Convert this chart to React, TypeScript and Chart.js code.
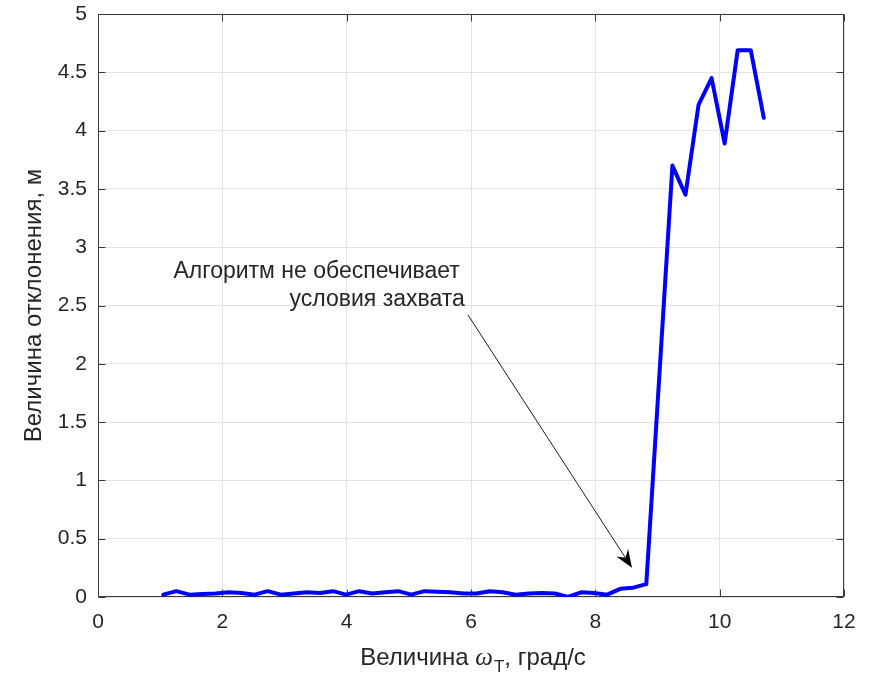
import React, { useEffect, useRef } from "react";
import { Chart, registerables } from "chart.js";

Chart.register(...registerables);

// ---- data ----
const omegaValues = [
  1.05, 1.26, 1.47, 1.68, 1.89, 2.10, 2.31, 2.52, 2.73, 2.94,
  3.15, 3.36, 3.57, 3.78, 3.99, 4.20, 4.41, 4.62, 4.83, 5.04,
  5.25, 5.46, 5.67, 5.88, 6.09, 6.30, 6.51, 6.72, 6.93, 7.14,
  7.35, 7.56, 7.77, 7.98, 8.19, 8.40, 8.61, 8.82, 9.03, 9.24,
  9.45, 9.66, 9.87, 10.08, 10.29, 10.50, 10.71,
];
const deviationValues = [
  0.02, 0.05, 0.02, 0.025, 0.03, 0.04, 0.035, 0.02, 0.05, 0.02,
  0.03, 0.04, 0.035, 0.05, 0.02, 0.05, 0.03, 0.04, 0.05, 0.02,
  0.05, 0.045, 0.04, 0.03, 0.03, 0.05, 0.04, 0.02, 0.03, 0.035,
  0.03, 0.0, 0.04, 0.035, 0.02, 0.07, 0.08, 0.11, 1.9, 3.7,
  3.45, 4.22, 4.45, 3.89, 4.69, 4.69, 4.11,
];
const xTickValues = [0, 2, 4, 6, 8, 10, 12];
const xTickLabels = ["0", "2", "4", "6", "8", "10", "12"];
const yTickValues = [0, 0.5, 1, 1.5, 2, 2.5, 3, 3.5, 4, 4.5, 5];
const yTickLabels = ["0", "0.5", "1", "1.5", "2", "2.5", "3", "3.5", "4", "4.5", "5"];

const yAxisTitle = "Величина отклонения, м";
const xTitleMain = "Величина ";
const xTitleSymbol = "ω";
const xTitleSub = "T";
const xTitleRest = ", град/с";
const annotationLine1 = "Алгоритм не обеспечивает";
const annotationLine2 = "условия захвата";
// annotation anchors in data units
const annotationLine1Pos = [5.82, 2.79];
const annotationLine2Pos = [5.90, 2.55];
const arrowStart = [5.95, 2.42];
const arrowEnd = [8.59, 0.25];

const FONT = "'Liberation Sans', Arial, Helvetica, sans-serif";
const AXIS_COLOR = "#3a3a3a";
const TEXT_COLOR = "#262626";

const framePlugin = {
  id: "matlabFrame",
  beforeDatasetsDraw(chart: any) {
    const { ctx, chartArea: a, scales } = chart;
    const xs = scales.x;
    const ys = scales.y;
    ctx.save();
    ctx.strokeStyle = AXIS_COLOR;
    ctx.lineWidth = 1;
    const L = Math.round(a.left) + 0.5;
    const R = Math.round(a.right) - 0.5;
    const T = Math.round(a.top) + 0.5;
    const B = Math.round(a.bottom) - 0.5;
    ctx.strokeRect(L, T, R - L, B - T);
    const tl = 7;
    ctx.beginPath();
    xTickValues.forEach((v) => {
      const px = Math.round(xs.getPixelForValue(v)) + 0.5;
      ctx.moveTo(px, B);
      ctx.lineTo(px, B - tl);
      ctx.moveTo(px, T);
      ctx.lineTo(px, T + tl);
    });
    yTickValues.forEach((v) => {
      const py = Math.round(ys.getPixelForValue(v)) + 0.5;
      ctx.moveTo(L, py);
      ctx.lineTo(L + tl, py);
      ctx.moveTo(R, py);
      ctx.lineTo(R - tl, py);
    });
    ctx.stroke();
    ctx.restore();
  },
  afterDraw(chart: any) {
    const { ctx, chartArea: a, scales } = chart;
    const xs = scales.x;
    const ys = scales.y;
    ctx.save();
    // x axis title with italic omega and subscript T
    const mainFont = `24px ${FONT}`;
    const symFont = `italic 25px 'Liberation Serif', 'DejaVu Serif', serif`;
    const subFont = `17px ${FONT}`;
    ctx.font = mainFont;
    const w1 = ctx.measureText(xTitleMain).width;
    const w4 = ctx.measureText(xTitleRest).width;
    ctx.font = symFont;
    const w2 = ctx.measureText(xTitleSymbol).width;
    ctx.font = subFont;
    const w3 = ctx.measureText(xTitleSub).width;
    const total = w1 + w2 + w3 + w4 + 1;
    const cx = (a.left + a.right) / 2 + 2;
    let x = cx - total / 2;
    const baseY = 665;
    ctx.fillStyle = TEXT_COLOR;
    ctx.textBaseline = "alphabetic";
    ctx.textAlign = "left";
    ctx.font = mainFont;
    ctx.fillText(xTitleMain, x, baseY);
    x += w1;
    ctx.font = symFont;
    ctx.fillText(xTitleSymbol, x, baseY);
    x += w2 + 1;
    ctx.font = subFont;
    ctx.fillText(xTitleSub, x, baseY + 7);
    x += w3;
    ctx.font = mainFont;
    ctx.fillText(xTitleRest, x, baseY);

    // annotation text
    ctx.font = `23px ${FONT}`;
    ctx.textAlign = "right";
    ctx.textBaseline = "middle";
    ctx.fillText(annotationLine1, xs.getPixelForValue(annotationLine1Pos[0]), ys.getPixelForValue(annotationLine1Pos[1]));
    ctx.fillText(annotationLine2, xs.getPixelForValue(annotationLine2Pos[0]), ys.getPixelForValue(annotationLine2Pos[1]));

    // arrow
    const x0 = xs.getPixelForValue(arrowStart[0]);
    const y0 = ys.getPixelForValue(arrowStart[1]);
    const x1 = xs.getPixelForValue(arrowEnd[0]);
    const y1 = ys.getPixelForValue(arrowEnd[1]);
    const dx = x1 - x0;
    const dy = y1 - y0;
    const len = Math.hypot(dx, dy);
    const ux = dx / len;
    const uy = dy / len;
    const nx = -uy;
    const ny = ux;
    const headLen = 18;
    const headW = 7;
    const notch = 12;
    ctx.strokeStyle = "#1a1a1a";
    ctx.lineWidth = 1;
    ctx.beginPath();
    ctx.moveTo(x0, y0);
    ctx.lineTo(x1 - ux * notch, y1 - uy * notch);
    ctx.stroke();
    ctx.fillStyle = "#000000";
    ctx.beginPath();
    ctx.moveTo(x1, y1);
    ctx.lineTo(x1 - ux * headLen + nx * headW, y1 - uy * headLen + ny * headW);
    ctx.lineTo(x1 - ux * notch, y1 - uy * notch);
    ctx.lineTo(x1 - ux * headLen - nx * headW, y1 - uy * headLen - ny * headW);
    ctx.closePath();
    ctx.fill();
    ctx.restore();
  },
};

export default function App() {
  const canvasRef = useRef<HTMLCanvasElement | null>(null);

  useEffect(() => {
    document.body.style.margin = "0";
    const canvas = canvasRef.current;
    if (!canvas) return;
    const points = omegaValues.map((x, i) => ({ x, y: deviationValues[i] }));
    const chart = new Chart(canvas, {
      type: "line",
      data: {
        datasets: [
          {
            data: points,
            borderColor: "#0000ff",
            borderWidth: 4,
            borderJoinStyle: "round",
            borderCapStyle: "round",
            pointRadius: 0,
            fill: false,
            tension: 0,
          },
        ],
      },
      options: {
        animation: false,
        responsive: true,
        maintainAspectRatio: false,
        layout: { padding: { top: 14, right: 29, left: 0, bottom: 0 } },
        plugins: {
          legend: { display: false },
          tooltip: { enabled: false },
        },
        scales: {
          x: {
            type: "linear",
            min: 0,
            max: 12,
            afterFit: (s: any) => {
              s.height = 76;
              s.paddingLeft = 0;
              s.paddingRight = 0;
            },
            afterBuildTicks: (s: any) => {
              s.ticks = xTickValues.map((v) => ({ value: v }));
            },
            ticks: {
              callback: (_v: any, i: number) => xTickLabels[i],
              color: TEXT_COLOR,
              font: { family: FONT, size: 21 },
              padding: 13,
              maxRotation: 0,
              autoSkip: false,
            },
            grid: { color: "#e3e3e3", lineWidth: 1, drawTicks: false },
            border: { display: false },
          },
          y: {
            type: "linear",
            min: 0,
            max: 5,
            afterFit: (s: any) => {
              s.width = 98;
              s.paddingTop = 0;
              s.paddingBottom = 0;
            },
            afterBuildTicks: (s: any) => {
              s.ticks = yTickValues.map((v) => ({ value: v }));
            },
            ticks: {
              callback: (_v: any, i: number) => yTickLabels[i],
              color: TEXT_COLOR,
              font: { family: FONT, size: 21 },
              padding: 11,
              autoSkip: false,
            },
            grid: { color: "#e3e3e3", lineWidth: 1, drawTicks: false },
            border: { display: false },
            title: {
              display: true,
              text: yAxisTitle,
              color: TEXT_COLOR,
              font: { family: FONT, size: 24 },
              padding: { top: 20, bottom: 0 },
            },
          },
        },
      },
      plugins: [framePlugin],
    });
    return () => chart.destroy();
  }, []);

  return (
    <div style={{ width: "873px", height: "673px", position: "relative", background: "#ffffff" }}>
      <canvas ref={canvasRef} />
    </div>
  );
}
